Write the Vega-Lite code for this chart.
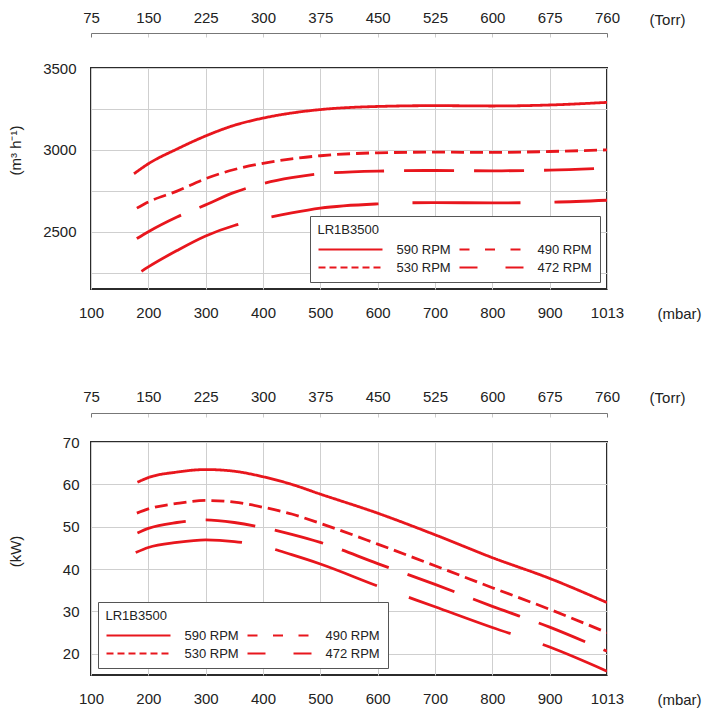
{
  "$schema": "https://vega.github.io/schema/vega-lite/v6.json",
  "padding": {"left": 7, "top": 9, "right": 5, "bottom": 5},
  "config": {
    "font": "Liberation Sans",
    "view": {"stroke": "#2b2b2b", "strokeWidth": 2},
    "axis": {"labelFont": "Liberation Sans", "labelFontSize": 15, "labelColor": "#222", "titleFont": "Liberation Sans", "titleFontSize": 15, "titleFontWeight": "normal", "titleColor": "#222", "gridColor": "#cfcfcf", "gridWidth": 1},
    "legend": {"columns": 2, "symbolType": "stroke", "symbolSize": 4096, "symbolStrokeWidth": 2, "symbolStrokeColor": "#e8161d", "labelFont": "Liberation Sans", "labelFontSize": 13, "labelColor": "#222", "titleFont": "Liberation Sans", "titleFontSize": 13, "titleFontWeight": "normal", "titleColor": "#222", "padding": 7.5, "strokeColor": "#555", "fillColor": "white", "labelOffset": 13, "columnPadding": 7, "rowPadding": 4, "clipHeight": 14, "titlePadding": 6, "offset": 7},
    "concat": {"spacing": 66}
  },
  "datasets": {
    "flow": [
      {"rpm": "590 RPM", "mbar": 175, "value": 2854},
      {"rpm": "590 RPM", "mbar": 200, "value": 2915},
      {"rpm": "590 RPM", "mbar": 250, "value": 3005},
      {"rpm": "590 RPM", "mbar": 300, "value": 3085},
      {"rpm": "590 RPM", "mbar": 350, "value": 3150},
      {"rpm": "590 RPM", "mbar": 400, "value": 3194},
      {"rpm": "590 RPM", "mbar": 450, "value": 3225},
      {"rpm": "590 RPM", "mbar": 500, "value": 3246},
      {"rpm": "590 RPM", "mbar": 600, "value": 3265},
      {"rpm": "590 RPM", "mbar": 700, "value": 3270},
      {"rpm": "590 RPM", "mbar": 800, "value": 3268},
      {"rpm": "590 RPM", "mbar": 900, "value": 3274},
      {"rpm": "590 RPM", "mbar": 1013, "value": 3290},
      {"rpm": "530 RPM", "mbar": 180, "value": 2644},
      {"rpm": "530 RPM", "mbar": 200, "value": 2682},
      {"rpm": "530 RPM", "mbar": 250, "value": 2748},
      {"rpm": "530 RPM", "mbar": 300, "value": 2824},
      {"rpm": "530 RPM", "mbar": 350, "value": 2880},
      {"rpm": "530 RPM", "mbar": 400, "value": 2918},
      {"rpm": "530 RPM", "mbar": 450, "value": 2945},
      {"rpm": "530 RPM", "mbar": 500, "value": 2964},
      {"rpm": "530 RPM", "mbar": 600, "value": 2982},
      {"rpm": "530 RPM", "mbar": 700, "value": 2986},
      {"rpm": "530 RPM", "mbar": 800, "value": 2984},
      {"rpm": "530 RPM", "mbar": 900, "value": 2990},
      {"rpm": "530 RPM", "mbar": 1013, "value": 3000},
      {"rpm": "490 RPM", "mbar": 180, "value": 2458},
      {"rpm": "490 RPM", "mbar": 200, "value": 2500},
      {"rpm": "490 RPM", "mbar": 250, "value": 2590},
      {"rpm": "490 RPM", "mbar": 300, "value": 2664},
      {"rpm": "490 RPM", "mbar": 350, "value": 2740},
      {"rpm": "490 RPM", "mbar": 400, "value": 2794},
      {"rpm": "490 RPM", "mbar": 450, "value": 2830},
      {"rpm": "490 RPM", "mbar": 500, "value": 2854},
      {"rpm": "490 RPM", "mbar": 600, "value": 2870},
      {"rpm": "490 RPM", "mbar": 700, "value": 2874},
      {"rpm": "490 RPM", "mbar": 800, "value": 2872},
      {"rpm": "490 RPM", "mbar": 900, "value": 2876},
      {"rpm": "490 RPM", "mbar": 1013, "value": 2888},
      {"rpm": "472 RPM", "mbar": 188, "value": 2258},
      {"rpm": "472 RPM", "mbar": 200, "value": 2285},
      {"rpm": "472 RPM", "mbar": 250, "value": 2385},
      {"rpm": "472 RPM", "mbar": 300, "value": 2474},
      {"rpm": "472 RPM", "mbar": 350, "value": 2538},
      {"rpm": "472 RPM", "mbar": 400, "value": 2580},
      {"rpm": "472 RPM", "mbar": 450, "value": 2615},
      {"rpm": "472 RPM", "mbar": 500, "value": 2644},
      {"rpm": "472 RPM", "mbar": 600, "value": 2670},
      {"rpm": "472 RPM", "mbar": 700, "value": 2678},
      {"rpm": "472 RPM", "mbar": 800, "value": 2676},
      {"rpm": "472 RPM", "mbar": 900, "value": 2680},
      {"rpm": "472 RPM", "mbar": 1013, "value": 2692}
    ],
    "power": [
      {"rpm": "590 RPM", "mbar": 181, "value": 60.5},
      {"rpm": "590 RPM", "mbar": 200, "value": 61.6},
      {"rpm": "590 RPM", "mbar": 250, "value": 62.9},
      {"rpm": "590 RPM", "mbar": 300, "value": 63.5},
      {"rpm": "590 RPM", "mbar": 350, "value": 63.1},
      {"rpm": "590 RPM", "mbar": 400, "value": 61.8},
      {"rpm": "590 RPM", "mbar": 450, "value": 60.0},
      {"rpm": "590 RPM", "mbar": 500, "value": 57.7},
      {"rpm": "590 RPM", "mbar": 600, "value": 53.2},
      {"rpm": "590 RPM", "mbar": 700, "value": 48.1},
      {"rpm": "590 RPM", "mbar": 800, "value": 42.7},
      {"rpm": "590 RPM", "mbar": 900, "value": 37.8},
      {"rpm": "590 RPM", "mbar": 1013, "value": 32.1},
      {"rpm": "530 RPM", "mbar": 180, "value": 53.2},
      {"rpm": "530 RPM", "mbar": 200, "value": 54.2},
      {"rpm": "530 RPM", "mbar": 250, "value": 55.5},
      {"rpm": "530 RPM", "mbar": 300, "value": 56.2},
      {"rpm": "530 RPM", "mbar": 350, "value": 55.8},
      {"rpm": "530 RPM", "mbar": 400, "value": 54.6},
      {"rpm": "530 RPM", "mbar": 450, "value": 53.0},
      {"rpm": "530 RPM", "mbar": 500, "value": 50.8},
      {"rpm": "530 RPM", "mbar": 600, "value": 45.9},
      {"rpm": "530 RPM", "mbar": 700, "value": 40.8},
      {"rpm": "530 RPM", "mbar": 800, "value": 35.6},
      {"rpm": "530 RPM", "mbar": 900, "value": 30.5},
      {"rpm": "530 RPM", "mbar": 1013, "value": 25.0},
      {"rpm": "490 RPM", "mbar": 181, "value": 48.5},
      {"rpm": "490 RPM", "mbar": 200, "value": 49.6},
      {"rpm": "490 RPM", "mbar": 250, "value": 51.0},
      {"rpm": "490 RPM", "mbar": 300, "value": 51.6},
      {"rpm": "490 RPM", "mbar": 350, "value": 51.0},
      {"rpm": "490 RPM", "mbar": 400, "value": 49.8},
      {"rpm": "490 RPM", "mbar": 450, "value": 48.2},
      {"rpm": "490 RPM", "mbar": 500, "value": 46.3},
      {"rpm": "490 RPM", "mbar": 600, "value": 41.3},
      {"rpm": "490 RPM", "mbar": 700, "value": 36.4},
      {"rpm": "490 RPM", "mbar": 800, "value": 31.2},
      {"rpm": "490 RPM", "mbar": 900, "value": 26.3},
      {"rpm": "490 RPM", "mbar": 1013, "value": 20.6},
      {"rpm": "472 RPM", "mbar": 178, "value": 43.9},
      {"rpm": "472 RPM", "mbar": 200, "value": 45.1},
      {"rpm": "472 RPM", "mbar": 250, "value": 46.3},
      {"rpm": "472 RPM", "mbar": 300, "value": 46.9},
      {"rpm": "472 RPM", "mbar": 350, "value": 46.5},
      {"rpm": "472 RPM", "mbar": 400, "value": 45.4},
      {"rpm": "472 RPM", "mbar": 450, "value": 43.4},
      {"rpm": "472 RPM", "mbar": 500, "value": 41.2},
      {"rpm": "472 RPM", "mbar": 600, "value": 36.0},
      {"rpm": "472 RPM", "mbar": 700, "value": 31.1},
      {"rpm": "472 RPM", "mbar": 800, "value": 26.2},
      {"rpm": "472 RPM", "mbar": 900, "value": 21.6},
      {"rpm": "472 RPM", "mbar": 1013, "value": 15.9}
    ]
  },
  "vconcat": [
    {
      "width": 516,
      "height": 221,
      "data": {"name": "flow"},
      "layer": [
        {
          "mark": {"type": "line", "color": "#e8161d", "strokeWidth": 2.8, "interpolate": "monotone", "clip": true},
          "encoding": {
            "x": {"field": "mbar", "type": "quantitative",
              "scale": {"domain": [100, 900, 1013], "range": [0, 458.67, 516], "nice": false, "zero": false},
              "axis": {"orient": "bottom", "values": [100, 200, 300, 400, 500, 600, 700, 800, 900, 1013], "format": "d", "labelFlush": false, "grid": true, "domain": false, "ticks": false, "labelPadding": 16, "title": "(mbar)", "titleX": 588, "titleY": 24, "titleBaseline": "middle", "titleAlign": "center", "titleAngle": 0}},
            "y": {"field": "value", "type": "quantitative",
              "scale": {"domain": [2150, 3500], "nice": false, "zero": false},
              "axis": {"values": [2250, 2500, 2750, 3000, 3250, 3500], "labelExpr": "datum.value % 500 == 0 ? format(datum.value, 'd') : ''", "grid": true, "domain": false, "ticks": false, "labelPadding": 15, "labelFlush": false, "title": "(m³ h⁻¹)", "titleX": -76, "titleY": 82, "titleAlign": "center", "titleBaseline": "middle", "titleAngle": 270}},
            "strokeDash": {"field": "rpm", "type": "nominal",
              "scale": {"domain": ["590 RPM", "530 RPM", "490 RPM", "472 RPM"], "range": [[1, 0], [13, 6], [50, 20], [108, 34]]},
              "legend": null}
          }
        },
        {
          "transform": [{"filter": "datum.mbar < 0"}],
          "mark": {"type": "line", "color": "#e8161d", "strokeWidth": 2},
          "encoding": {
            "x": {"field": "mbar", "type": "quantitative",
              "scale": {"domain": [100, 900, 1013], "range": [0, 458.67, 516], "nice": false, "zero": false}, "axis": null},
            "y": {"field": "value", "type": "quantitative"},
            "strokeDash": {"field": "rpm", "type": "nominal",
              "scale": {"domain": ["590 RPM", "530 RPM", "490 RPM", "472 RPM"], "range": [[1, 0], [7, 4], [10, 15.5], [18, 28]]},
              "legend": {"title": "LR1B3500", "orient": "bottom-right"}}
          }
        },
        {
          "mark": {"type": "rule", "opacity": 0},
          "encoding": {
            "x": {"field": "mbar", "type": "quantitative",
              "scale": {"domain": [100, 900, 1013], "range": [0, 458.67, 516], "nice": false, "zero": false},
              "axis": {"orient": "top", "offset": 35, "values": [100, 200, 300, 400, 500, 600, 700, 800, 900, 1013], "labelExpr": "datum.value == 100 ? '75' : datum.value == 1013 ? '760' : format(datum.value * 0.75, 'd')", "labelFlush": false, "grid": false, "domain": true, "domainColor": "#777", "domainWidth": 1, "ticks": true, "tickSize": -4, "tickColor": {"condition": {"test": "datum.value == 100 || datum.value == 1013", "value": "#777"}, "value": "#cccccc"}, "labelPadding": 12, "title": "(Torr)", "titleX": 576, "titleY": -14, "titleBaseline": "middle", "titleAlign": "center", "titleAngle": 0}}
          }
        }
      ],
      "resolve": {"scale": {"x": "independent", "strokeDash": "independent"}, "axis": {"x": "independent"}, "legend": {"strokeDash": "independent"}}
    },
    {
      "width": 516,
      "height": 233,
      "data": {"name": "power"},
      "layer": [
        {
          "mark": {"type": "line", "color": "#e8161d", "strokeWidth": 2.8, "interpolate": "monotone", "clip": true},
          "encoding": {
            "x": {"field": "mbar", "type": "quantitative",
              "scale": {"domain": [100, 900, 1013], "range": [0, 458.67, 516], "nice": false, "zero": false},
              "axis": {"orient": "bottom", "values": [100, 200, 300, 400, 500, 600, 700, 800, 900, 1013], "format": "d", "labelFlush": false, "grid": true, "domain": false, "ticks": false, "labelPadding": 16, "title": "(mbar)", "titleX": 588, "titleY": 24, "titleBaseline": "middle", "titleAlign": "center", "titleAngle": 0}},
            "y": {"field": "value", "type": "quantitative",
              "scale": {"domain": [15, 70], "nice": false, "zero": false},
              "axis": {"values": [20, 30, 40, 50, 60, 70], "format": "d", "grid": true, "domain": false, "ticks": false, "labelPadding": 12, "labelFlush": false, "title": "(kW)", "titleX": -76, "titleY": 109, "titleAlign": "center", "titleBaseline": "middle", "titleAngle": 270}},
            "strokeDash": {"field": "rpm", "type": "nominal",
              "scale": {"domain": ["590 RPM", "530 RPM", "490 RPM", "472 RPM"], "range": [[1, 0], [13, 6], [50, 20], [108, 34]]},
              "legend": null}
          }
        },
        {
          "transform": [{"filter": "datum.mbar < 0"}],
          "mark": {"type": "line", "color": "#e8161d", "strokeWidth": 2},
          "encoding": {
            "x": {"field": "mbar", "type": "quantitative",
              "scale": {"domain": [100, 900, 1013], "range": [0, 458.67, 516], "nice": false, "zero": false}, "axis": null},
            "y": {"field": "value", "type": "quantitative"},
            "strokeDash": {"field": "rpm", "type": "nominal",
              "scale": {"domain": ["590 RPM", "530 RPM", "490 RPM", "472 RPM"], "range": [[1, 0], [7, 4], [10, 15.5], [18, 28]]},
              "legend": {"title": "LR1B3500", "orient": "bottom-left"}}
          }
        },
        {
          "mark": {"type": "rule", "opacity": 0},
          "encoding": {
            "x": {"field": "mbar", "type": "quantitative",
              "scale": {"domain": [100, 900, 1013], "range": [0, 458.67, 516], "nice": false, "zero": false},
              "axis": {"orient": "top", "offset": 29, "values": [100, 200, 300, 400, 500, 600, 700, 800, 900, 1013], "labelExpr": "datum.value == 100 ? '75' : datum.value == 1013 ? '760' : format(datum.value * 0.75, 'd')", "labelFlush": false, "grid": false, "domain": true, "domainColor": "#777", "domainWidth": 1, "ticks": true, "tickSize": -4, "tickColor": {"condition": {"test": "datum.value == 100 || datum.value == 1013", "value": "#777"}, "value": "#cccccc"}, "labelPadding": 13, "title": "(Torr)", "titleX": 576, "titleY": -16, "titleBaseline": "middle", "titleAlign": "center", "titleAngle": 0}}
          }
        }
      ],
      "resolve": {"scale": {"x": "independent", "strokeDash": "independent"}, "axis": {"x": "independent"}, "legend": {"strokeDash": "independent"}}
    }
  ],
  "resolve": {"scale": {"strokeDash": "independent"}, "legend": {"strokeDash": "independent"}}
}
